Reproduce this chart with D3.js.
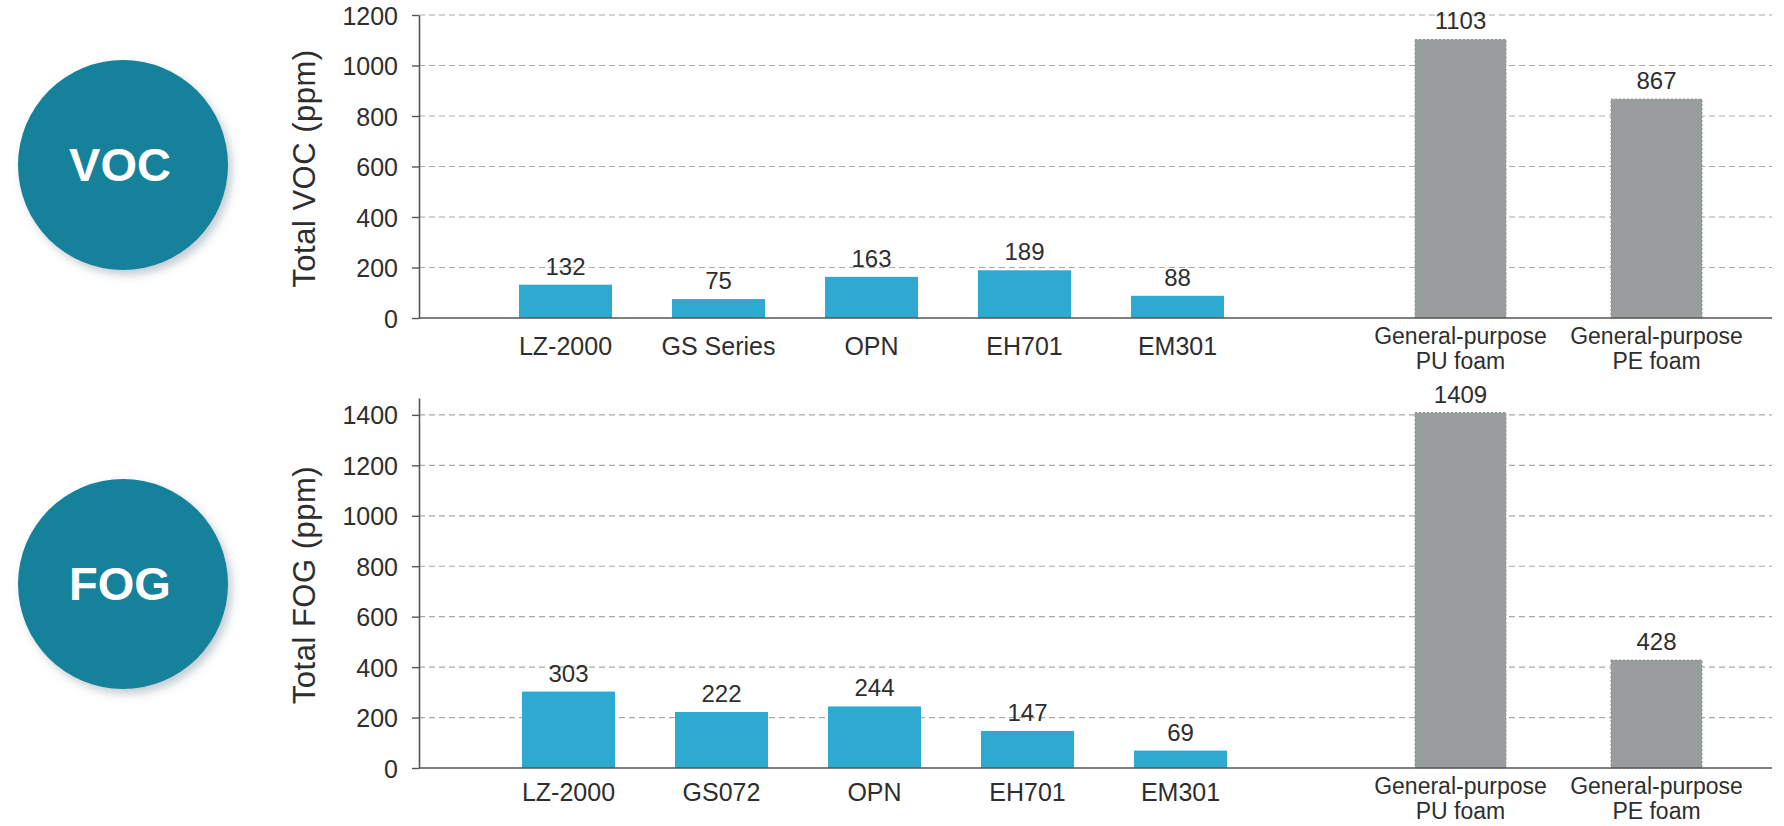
<!DOCTYPE html>
<html>
<head>
<meta charset="utf-8">
<script src="https://cdn.jsdelivr.net/npm/d3@7"></script>
<style>
  html, body { margin: 0; padding: 0; background: #fff; }
  svg { display: block; font-family: "Liberation Sans", Arial, sans-serif; }
</style>
</head>
<body>
<svg id="chart" width="1784" height="826"></svg>
<script>
// ---------------- data ----------------
const vocCategories = ["LZ-2000", "GS Series", "OPN", "EH701", "EM301"];
const vocValues = [132, 75, 163, 189, 88];
const fogCategories = ["LZ-2000", "GS072", "OPN", "EH701", "EM301"];
const fogValues = [303, 222, 244, 147, 69];
const refCategories = ["General-purpose\nPU foam", "General-purpose\nPE foam"];
const vocRefValues = [1103, 867];
const fogRefValues = [1409, 428];
const vocTicks = [0, 200, 400, 600, 800, 1000, 1200];
const fogTicks = [0, 200, 400, 600, 800, 1000, 1200, 1400];
const vocAxisMax = 1200;
const fogAxisMax = 1467;
const vocTitle = "Total VOC (ppm)";
const fogTitle = "Total FOG (ppm)";
const vocBadge = "VOC";
const fogBadge = "FOG";

// ---------------- styles ----------------
const BLUE = "#2eaad0";
const GRAY = "#999d9d";
const TEAL = "#14819a";
const TEXT = "#2e2e2e";

const svg = d3.select("#chart");
const defs = svg.append("defs");
const f = defs.append("filter").attr("id", "shadow").attr("x", "-20%").attr("y", "-20%").attr("width", "150%").attr("height", "150%");
f.append("feDropShadow").attr("dx", 4).attr("dy", 5).attr("stdDeviation", 4)
  .attr("flood-color", "#557080").attr("flood-opacity", 0.35);

const panels = [
  { cats: vocCategories, vals: vocValues, refVals: vocRefValues, ticks: vocTicks, axisMax: vocAxisMax,
    title: vocTitle, badge: vocBadge, y0: 318, yTop: 15, blueStart: 519, badgeY: 165, catOffset: 37 },
  { cats: fogCategories, vals: fogValues, refVals: fogRefValues, ticks: fogTicks, axisMax: fogAxisMax,
    title: fogTitle, badge: fogBadge, y0: 768, yTop: 398, blueStart: 522, badgeY: 584, catOffset: 33 }
];

const axisX = 419, rightX = 1772;

panels.forEach(p => {
  const g = svg.append("g");

  // badge circle
  g.append("circle").attr("cx", 123).attr("cy", p.badgeY).attr("r", 105)
    .attr("fill", TEAL).attr("filter", "url(#shadow)");
  g.append("text").attr("x", 120).attr("y", p.badgeY + 16)
    .attr("text-anchor", "middle").attr("fill", "#fff")
    .attr("font-size", 47).attr("font-weight", "bold").text(p.badge);

  const y = d3.scaleLinear().domain([0, p.axisMax]).range([p.y0, p.yTop]);

  // grid lines
  g.append("g").selectAll("line").data(p.ticks.filter(t => t > 0)).join("line")
    .attr("x1", axisX).attr("x2", rightX)
    .attr("y1", d => y(d)).attr("y2", d => y(d))
    .attr("stroke", "#a9a9a9").attr("stroke-width", 1.2)
    .attr("stroke-dasharray", "6,4");

  // x scales
  const xb = d3.scaleBand().domain(p.cats)
    .range([p.blueStart, p.blueStart + 4 * 153 + 93]).paddingInner(0.392).paddingOuter(0);
  const xr = d3.scaleBand().domain(refCategories)
    .range([1415, 1415 + 196 + 91]).paddingInner(0.5357).paddingOuter(0);

  // blue bars
  g.append("g").selectAll("rect").data(p.cats).join("rect")
    .attr("x", d => xb(d)).attr("width", xb.bandwidth())
    .attr("y", (d, i) => y(p.vals[i])).attr("height", (d, i) => y(0) - y(p.vals[i]))
    .attr("fill", BLUE);

  // gray bars
  g.append("g").selectAll("rect").data(refCategories).join("rect")
    .attr("x", d => xr(d)).attr("width", xr.bandwidth())
    .attr("y", (d, i) => y(p.refVals[i])).attr("height", (d, i) => y(0) - y(p.refVals[i]))
    .attr("fill", GRAY).attr("stroke", "#8c9090").attr("stroke-width", 1).attr("stroke-dasharray", "2,2");

  // x baseline
  g.append("line").attr("x1", axisX).attr("x2", rightX).attr("y1", y(0)).attr("y2", y(0))
    .attr("stroke", "#555").attr("stroke-width", 1.6);

  // y axis
  const ax = g.append("g").attr("transform", `translate(${axisX},0)`)
    .call(d3.axisLeft(y).tickValues(p.ticks).tickFormat(d3.format("d"))
      .tickSize(7).tickSizeOuter(0).tickPadding(14));
  ax.select(".domain").attr("stroke", "#555").attr("stroke-width", 1.6);
  ax.selectAll(".tick line").attr("stroke", "#555").attr("stroke-width", 1.4);
  ax.selectAll(".tick text").attr("font-size", 25).attr("fill", TEXT)
    .attr("font-family", "'Liberation Sans', Arial, sans-serif").attr("dy", "0.36em");

  // y title
  g.append("text")
    .attr("transform", `translate(315,${(p.y0 + p.yTop) / 2 + 2}) rotate(-90)`)
    .attr("text-anchor", "middle").attr("font-size", 31).attr("fill", TEXT)
    .attr("letter-spacing", 0.5)
    .text(p.title);

  // value labels
  g.append("g").selectAll("text").data(p.cats).join("text")
    .attr("x", d => xb(d) + xb.bandwidth() / 2)
    .attr("y", (d, i) => y(p.vals[i]) - 10)
    .attr("text-anchor", "middle").attr("font-size", 24).attr("fill", TEXT)
    .text((d, i) => p.vals[i]);
  g.append("g").selectAll("text").data(refCategories).join("text")
    .attr("x", d => xr(d) + xr.bandwidth() / 2)
    .attr("y", (d, i) => y(p.refVals[i]) - 10)
    .attr("text-anchor", "middle").attr("font-size", 24).attr("fill", TEXT)
    .text((d, i) => p.refVals[i]);

  // category labels
  g.append("g").selectAll("text").data(p.cats).join("text")
    .attr("x", d => xb(d) + xb.bandwidth() / 2)
    .attr("y", y(0) + p.catOffset)
    .attr("text-anchor", "middle").attr("font-size", 25).attr("fill", TEXT)
    .text(d => d);
  const rg = g.append("g");
  refCategories.forEach(d => {
    d.split("\n").forEach((ln, k) => {
      rg.append("text")
        .attr("x", xr(d) + xr.bandwidth() / 2)
        .attr("y", y(0) + 26 + k * 25)
        .attr("text-anchor", "middle").attr("font-size", 23).attr("fill", TEXT)
        .text(ln);
    });
  });
});
</script>
</body>
</html>
